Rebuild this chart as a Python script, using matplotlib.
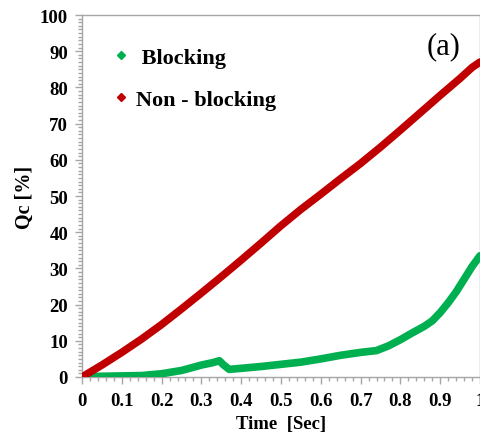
import matplotlib
matplotlib.use("Agg")
import matplotlib.pyplot as plt
from matplotlib.ticker import MultipleLocator
from matplotlib.lines import Line2D

t_red = [0, 0.05, 0.1, 0.15, 0.2, 0.25, 0.3, 0.35, 0.4, 0.45, 0.5, 0.55, 0.6, 0.65,
         0.7, 0.75, 0.8, 0.85, 0.9, 0.95, 0.98, 1.0]
q_red = [0, 3.3, 6.8, 10.5, 14.5, 18.8, 23.2, 27.7, 32.3, 37, 41.8, 46.3, 50.5, 54.8,
         59, 63.5, 68.2, 73, 77.8, 82.5, 85.5, 87]

t_green = [0, 0.05, 0.1, 0.15, 0.2, 0.25, 0.28, 0.3, 0.33, 0.345, 0.355, 0.37, 0.4,
           0.45, 0.5, 0.55, 0.6, 0.65, 0.7, 0.74, 0.77, 0.8, 0.83, 0.86, 0.88, 0.9,
           0.92, 0.94, 0.96, 0.98, 1.0]
q_green = [0, 0.2, 0.3, 0.4, 0.9, 1.8, 2.7, 3.3, 4.0, 4.5, 3.4, 2.1, 2.4,
           2.9, 3.5, 4.1, 5.0, 6.0, 6.8, 7.3, 8.6, 10.3, 12.2, 14.0, 15.5, 17.8,
           20.5, 23.5, 27.0, 30.5, 33.5]

x_ticks = [0, 0.1, 0.2, 0.3, 0.4, 0.5, 0.6, 0.7, 0.8, 0.9, 1]
x_labels = ["0", "0.1", "0.2", "0.3", "0.4", "0.5", "0.6", "0.7", "0.8", "0.9", "1"]
y_ticks = [0, 10, 20, 30, 40, 50, 60, 70, 80, 90, 100]

serif = ["Liberation Serif", "DejaVu Serif"]
red = "#c00000"
green = "#00b050"
grey = "#a6a6a6"

fig = plt.figure(figsize=(4.81, 4.39), dpi=100)
ax = fig.add_axes([82/481, 1-378/439, 398/481, 362/439])

ax.plot(t_green, q_green, color=green, lw=5.5, solid_capstyle="round",
        solid_joinstyle="round", zorder=3)
ax.plot(t_red, q_red, color=red, lw=5.5, solid_capstyle="round",
        solid_joinstyle="round", zorder=4)

ax.set_xlim(0, 1)
ax.set_ylim(0, 100)
ax.set_xticks(x_ticks)
ax.set_xticklabels(x_labels)
ax.set_yticks(y_ticks)
ax.xaxis.set_minor_locator(MultipleLocator(0.02))
ax.yaxis.set_minor_locator(MultipleLocator(1))

for s in ax.spines.values():
    s.set_color(grey)
    s.set_linewidth(1.0)

ax.tick_params(which="major", direction="out", length=5, color=grey, width=1)
ax.tick_params(which="minor", direction="out", length=3, color=grey, width=1)
ax.tick_params(axis="x", which="major", labelsize=13.5, pad=6)
ax.tick_params(axis="y", which="major", labelsize=13.5, pad=5)
for lab in ax.get_xticklabels() + ax.get_yticklabels():
    lab.set_fontfamily(serif)
    lab.set_fontweight("bold")
    lab.set_color("black")

ax.set_xlabel("Time  [Sec]", fontsize=13.5, fontweight="bold", family=serif, labelpad=4)
ax.set_ylabel("Qc [%]", fontsize=14.5, fontweight="bold", family=serif, labelpad=4)

handles = [Line2D([], [], ls="none", marker="D", ms=4, color=green),
           Line2D([], [], ls="none", marker="D", ms=4, color=red)]
leg = ax.legend(handles, [" Blocking", "Non - blocking"], loc="upper left",
                bbox_to_anchor=(0.02, 0.965), frameon=False, handletextpad=0.15,
                labelspacing=0.95, handlelength=1.0,
                prop={"family": serif, "weight": "bold", "size": 16})

ax.text(0.95, 0.955, "(a)", transform=ax.transAxes, ha="right", va="top",
        fontsize=22, family=serif)

fig.savefig("out.png", dpi=100)
